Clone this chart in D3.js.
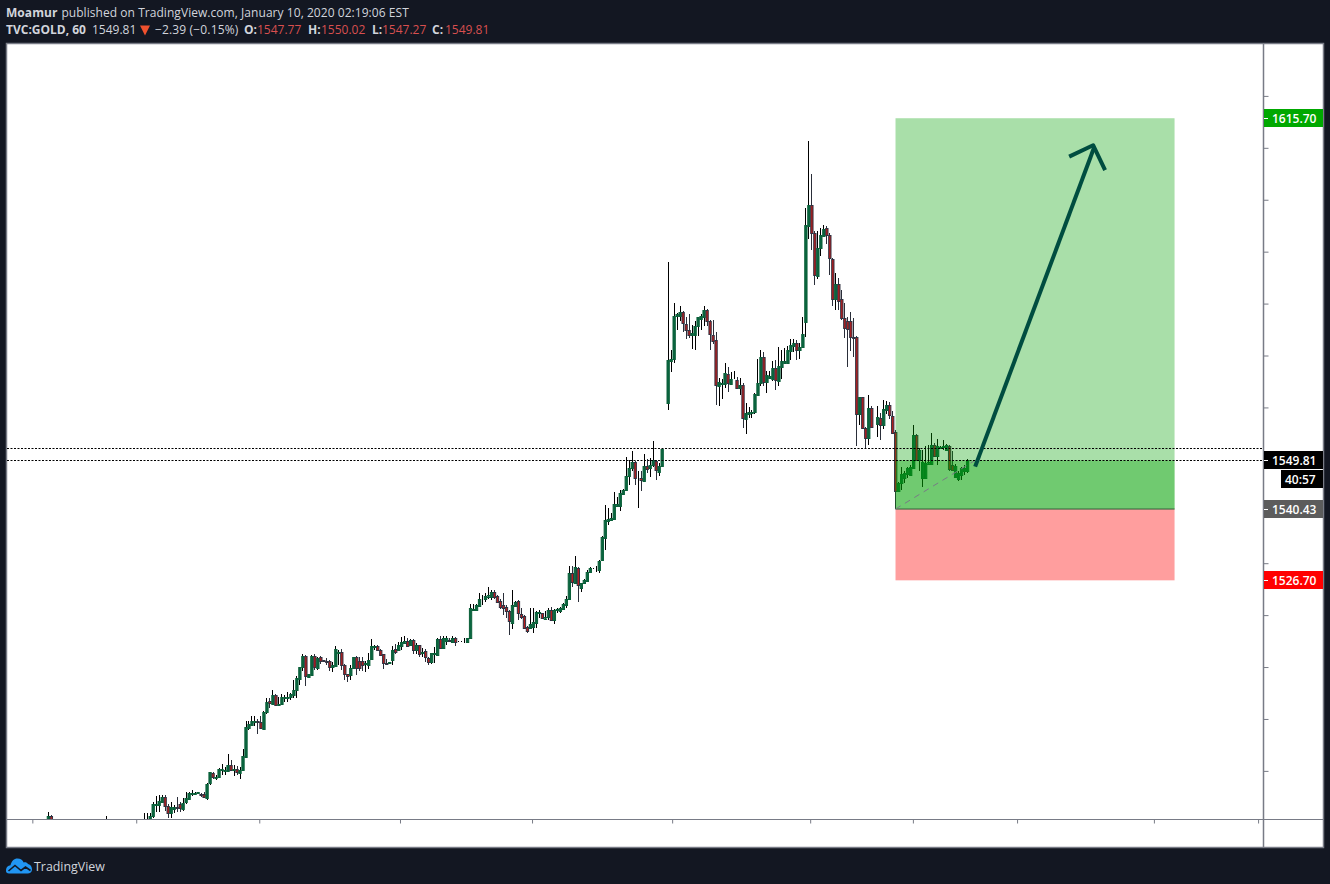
<!DOCTYPE html>
<html><head><meta charset="utf-8">
<script src="https://cdnjs.cloudflare.com/ajax/libs/d3/7.8.5/d3.min.js"></script>
<style>html,body{margin:0;padding:0;background:#131722}svg{display:block}text{font-family:"Open Sans",sans-serif}</style>
</head><body><div id="chart"></div>
<script>
const earlySlots=[0,1,19.5,32,33];
const firstMainSlot=34;
const earlyOpens=[1480.6,1481.4,1478.4,1478.6,1478.9];
const earlyCloses=[1481.4,1480.2,1478.8,1478.9,1479.5];
const earlyHighs=[1482.0,1481.6,1481.3,1481.9,1481.9];
const earlyLows=[1479.8,1479.6,1478,1478,1478.5];

const opens=[
1480.6,1481.2,1483.4,1483.5,1484.1,1484.9,1483.3,1481.9,1482.8,1483,1483.6,1482.8,1483.9,1484.6,1485.5,1485.7,1485.8,1485.5,1485.5,1484.8,1487.5,1489.5,1488.7,1488.9,1490.2,1490.1,1490,1491.1,1490.1,1490.3,1489.7,1490.1,1492.7,1498.2,1499,1499.5,1499.7,
1499.5,1498.1,1501.2,1503.4,1502.8,1504.6,1502.7,1502.8,1504,1504.2,1504.2,1504.6,1505.5,1507.7,1509.9,1512.1,1508.1,1508.5,1512.1,1509.7,1511.9,1511.3,1511.2,1511.1,1510,1510.2,1512.7,1512.9,1510.4,1508.7,1508.5,1509.7,1511.9,1511.2,1511.2,1510.5,1510.5,1511.4,1513.9,1514,1513.3,1512.5,1510.7,1510.8,1511.3,1513.4,1513.3,1514,1514.8,1515.1,1514.3,1515.2,1513.3,1514.2,1512.7,1513,1511.7,1510.9,1512.6,1512.3,1515.4,1513.6,1515.1,1515.3,1514.9,1515.5,1515,1515,1514.7,1514.7,1515.6,1521.1,1521,1521.8,
1523.5,1523.2,1523.5,1523.6,1524.5,1523.7,1522.8,1521.9,1521.5,1520.7,1518.6,1521.9,1522.8,1520.2,1519.9,1517.7,1517.6,1517.7,1518.5,1520.4,1520.4,1519.4,1519.6,1521,1519.1,1520.9,1520.7,1521.2,1522,1523,1528.1,1526.3,1529,1525.2,1526.2,1526.6,1528.3,1528.9,1528.9,1528.7,1530.5,1535,1538.1,1538.4,1538.6,1541.1,1541,1543.4,1544.1,1546.7,1548.3,1549.5,1546.4,1546.4,1545.9,1548.8,1548.4,1548.8,1549.6,1547.7,1548.8,1551.8,
1561,1569,1569.4,1577.5,1577.5,1578.3,1576.1,1575,1574,1574,1575.6,1577.2,1577.5,1578.8,1576.7,1574,1572.9,1564.2,1564.6,1564.4,1566.4,1564.6,1565.5,1565.2,1563.7,1564.3,1557.8,1558.8,1558.9,1559.2,1562.4,1564.7,1569.8,1564.9,1565.8,1565.5,1567.6,1565,1567.8,1568.7,1568.6,1571,1571.9,1572.4,1571.1,1571.6,1576.6,1594.9,1599,1593.5,1585.4,1590.6,1593.1,1594.5,1593.2,1588.6,1580.9,1583.8,1580.8,1577.2,1576.7,1576.7,1573.6,1573.6,1558.8,1562,1556,1554.1,1559.9,1556.2,1556.9,1558,1556.6,1559.6,1560.5,1558.4,1555.3,
1543.9,1545.3,1546.4,1547.2,1547.1,1548.4,1554.7,1549.9,1546.5,1546.5,1549.2,1549.1,1552.8,1550.5,1552.3,1552.4,1551.7,1552.5,1548.9,1546.7,1546.2,1547,1547.8,1547.8];
const closes=[
1481.3,1483.6,1483.6,1484.2,1485,1483.1,1481.9,1483.1,1483.1,1482.8,1482.8,1483.9,1484.7,1485.7,1485.7,1485.8,1485.9,1485.3,1485,1487.5,1489.7,1488.7,1488.8,1490.4,1490.4,1490.2,1491.1,1490.2,1490.3,1489.7,1490.2,1492.8,1498.5,1499,1499.7,1499.7,1499.6,
1498.4,1501.3,1503.2,1503,1504.6,1502.7,1502.8,1504.2,1504.2,1504.3,1504.8,1505.6,1507.8,1510,1512.1,1508.2,1508.6,1512.1,1509.9,1511.7,1511.2,1511.2,1511.1,1510,1510.4,1513.5,1512.9,1510.3,1508.7,1508.4,1509.8,1511.9,1509.8,1509.9,1510.5,1510.7,1511.4,1514,1514.1,1513.2,1512.4,1510.7,1510.6,1510.9,1513.3,1512.8,1514.3,1514.8,1515.1,1514.1,1515.3,1513.3,1514.3,1512.5,1512.9,1511.9,1510.9,1512.7,1512.8,1515.4,1513.6,1515.5,1515.6,1515.2,1515.6,1514.7,1515,1515,1514.7,1515.5,1521.3,1521.2,1522,1523.2,
1523.5,1523.7,1523.9,1524.5,1523.6,1522.6,1521.7,1521.3,1520.7,1518.8,1522,1522.6,1520.4,1519.7,1517.5,1517,1518.3,1518.6,1520.6,1520.6,1519.5,1519.7,1521,1519.1,1521,1521.1,1521.3,1522.2,1523.1,1528.1,1526.4,1529.3,1525.7,1526.2,1526.8,1528.4,1529,1528.9,1528.9,1530.5,1535,1538.4,1538.5,1538.8,1541.4,1541.4,1543.5,1544.1,1546.8,1548.3,1549.4,1546.4,1546.4,1546,1548.8,1548.3,1548.9,1549.8,1547.8,1548.8,1552,1551.8,
1569.2,1569.3,1577.7,1577.9,1578.3,1576.1,1574.9,1574,1574.3,1575.7,1577.4,1577.7,1578.8,1576.6,1574.2,1572.9,1564.2,1564.9,1564.7,1566.6,1564.7,1565.5,1565.5,1563.7,1564.3,1557.9,1558.9,1559.1,1559.1,1562.6,1564.7,1569.8,1564.9,1566.2,1566.1,1567.6,1565.2,1567.9,1568.9,1569,1571.1,1572.1,1572.4,1571,1571.7,1574.2,1595.2,1599,1593.6,1585.4,1590.7,1593.2,1594.4,1593.1,1588.7,1580.9,1583.7,1580.6,1577.2,1575.3,1575.2,1573.6,1573.5,1558.8,1562,1556,1554.1,1559.9,1556.2,1556.2,1558.2,1556.6,1559.7,1560.5,1558.6,1555.2,1544,
1545.4,1547.1,1547.3,1548.3,1548.6,1554.7,1549.9,1551.8,1549.5,1549.3,1549.5,1552.8,1550.7,1552.5,1552.4,1552.5,1552.7,1548,1547.9,1548.8,1547.3,1548.4,1548.4,1549.9];
const highs=[
1481.8,1484.1,1485.2,1485.4,1485.4,1485.4,1483.7,1484.1,1483.4,1485,1484.1,1484.7,1485.9,1486,1486.3,1485.9,1485.9,1485.8,1486,1487.6,1489.8,1489.8,1489.2,1490.5,1491.4,1490.7,1493.2,1492.1,1491.1,1491,1490.7,1494.3,1499.7,1499.7,1500.6,1500.6,1500,
1500.5,1501.5,1504,1504,1505.6,1504.8,1504.2,1504.8,1504.6,1505.2,1505,1507.5,1508.2,1510,1512.6,1512.3,1508.7,1512.3,1512.5,1512,1512.2,1511.3,1511.7,1511.4,1511,1514,1513.3,1513.4,1510.5,1508.7,1510.3,1512,1512.2,1511.9,1511.9,1511.1,1512.8,1515.4,1514.3,1514.3,1513.4,1512.6,1511.5,1511,1514,1514.4,1514.8,1515.7,1515.9,1515.5,1515.4,1515.4,1514.7,1514.3,1513.6,1513.4,1511.9,1512.8,1513.8,1515.5,1515.9,1516,1515.9,1515.5,1515.9,1515.7,1515,1515.1,1515.5,1515.5,1522.2,1522.2,1522.1,1524.2,
1523.9,1524.2,1525.5,1524.8,1524.9,1523.9,1523.1,1524.2,1522,1521,1524.9,1522.8,1523,1521.3,1520,1518,1521.3,1521.3,1520.7,1521,1520.5,1520.7,1521.3,1521.5,1521.1,1521.3,1521.5,1522.3,1523.7,1529.4,1529.5,1531.4,1529.2,1526.2,1526.9,1528.6,1529.2,1529,1529.4,1530.7,1535.2,1541.2,1540.6,1539.6,1543.8,1542.8,1544.1,1544.3,1550.4,1549.8,1551.6,1549.6,1547.7,1547.7,1551,1550,1550.2,1553.6,1549.8,1549.3,1552,1551.8,
1588.1,1571,1580.2,1578.2,1579.6,1578.5,1577.5,1577.9,1575.9,1576.6,1577.5,1577.9,1579.5,1579,1576.8,1576.9,1574.5,1565.7,1565.4,1568.6,1567.8,1566.8,1567,1565.9,1565.7,1564.7,1560.9,1560.1,1559.6,1562.8,1569.3,1571,1570.6,1567.1,1567,1568.9,1569.2,1571.6,1571.1,1571.4,1571.9,1573.2,1573.2,1573,1572.4,1577.5,1598.5,1611.4,1605,1593.9,1593.9,1594.6,1595.2,1595,1593.5,1588.7,1585.8,1584.9,1582.7,1580.2,1577.5,1578.4,1577.2,1573.7,1562.1,1562.1,1556.2,1562.3,1560.2,1556.2,1560.3,1558.9,1561.5,1561.2,1561,1559.3,1555.6,
1545.6,1548.6,1547.7,1548.6,1549,1556.6,1554.9,1552.2,1551.8,1552.5,1552.8,1555,1553.1,1553.9,1552.5,1553.8,1552.9,1552.8,1551.6,1549.1,1547.7,1548.6,1549,1550];
const lows=[
1480,1481,1482.1,1482.1,1483.8,1482.3,1481,1480.9,1481.8,1482,1482.1,1482.3,1483.7,1484.4,1485.2,1485.6,1485.8,1485,1484.7,1484.3,1487.3,1488.4,1488.2,1488.7,1489.2,1489.2,1489.9,1490,1489,1489.2,1488.5,1489.9,1492.4,1497.9,1498.8,1498.6,1497.2,
1498,1497.8,1501,1502.2,1502.7,1502.6,1502.6,1502.6,1503.3,1503.3,1503.7,1504.1,1504.1,1506.6,1509.3,1506.4,1508,1508.4,1509.4,1509.5,1510.6,1511,1510.3,1509.3,1509.1,1510,1510.4,1509.4,1507.5,1507.2,1507.5,1509.6,1508.5,1509.2,1509.2,1509.1,1509.6,1511.3,1513.3,1513.1,1512.3,1509.6,1510.4,1510.7,1510.4,1512.5,1513.2,1513.3,1514.6,1514,1514.2,1512.6,1512.6,1511.9,1512,1511,1510.4,1510.6,1510.8,1512.3,1513.5,1513.5,1514.3,1514.9,1514.6,1514.1,1514.9,1514.9,1514.6,1514.6,1515.5,1520.9,1520.9,1521.7,
1522,1522.5,1523.1,1523,1523.1,1522.3,1521.1,1520.1,1519.4,1516.2,1517.4,1521.8,1519.1,1519.2,1517.5,1516.6,1517.5,1516.6,1517.5,1519.4,1519.3,1519.3,1519.1,1519.1,1518.3,1520.4,1520.5,1521.1,1521.3,1523,1525.5,1526.2,1522.6,1524.5,1526,1526.5,1528.3,1528.8,1528.4,1528.2,1530.5,1532.6,1537.4,1538.4,1538.5,1541,1540.1,1543.2,1544,1545.1,1547.7,1545.1,1540.7,1544,1545.8,1547.3,1546.6,1548.6,1546,1546.7,1548.8,1551.8,
1559.6,1566.8,1568.6,1574.9,1576.6,1574.5,1573.1,1573.4,1571.2,1571,1573.8,1575,1575.6,1575.6,1571.1,1572.3,1560.5,1560.3,1561.6,1563.7,1562.9,1564.4,1565.4,1563.5,1562.3,1556,1554.8,1558,1558,1558.8,1562.8,1564.2,1564.2,1562.8,1565.5,1565,1563.4,1564.2,1565.4,1568.4,1568.4,1569.2,1570.6,1569.2,1569.4,1571.4,1573.5,1592.4,1590.4,1583.5,1584.8,1589.1,1592.8,1591.4,1585.6,1579.5,1578.8,1578.8,1576.9,1573.4,1567.8,1570.8,1569.8,1552.5,1556.7,1555.8,1552,1552.8,1556.2,1556.2,1554.4,1553.7,1555.8,1558.8,1557.8,1555.1,1540.5,
1543.9,1544.1,1545.4,1546.4,1546.9,1548.2,1549.7,1547.8,1544.6,1546.4,1548.9,1548.9,1550.5,1548.9,1552.3,1551.8,1551.6,1547.7,1547.7,1546.4,1545.9,1546,1547,1547.3];

const priceTicks=d3.range(1490,1621,10);
const timeTicks=[-5.2,29.5,70.6,117.6,161.7,208.5,254.6,288.9,323.7,369.4,404.2];
const targetPrice=1615.70,entryPrice=1540.43,stopPrice=1526.70,lastPrice=1549.81,prevClose=1552.2;
const positionSlots=[283.1,376.3];
const fillSlot=309.7;
const arrowShaft=[[309.7,1548.6],[349.4,1610.0]];
const arrowHead=[[341.1,1608.3],[349.1,1610.5],[353.1,1605.7]];
const headerLine1="published on TradingView.com, January 10, 2020 02:19:06 EST";
const axisBadges=[{p:targetPrice,t:"1615.70",c:"#00a800"},{p:lastPrice,t:"1549.81",c:"#000000"},{p:entryPrice,t:"1540.43",c:"#5c5c5c"},{p:stopPrice,t:"1526.70",c:"#ff0000"}];

const W=1330,H=884,L=7,R=1263,T=44,B=819.5;
const x=d3.scaleLinear().domain([-13.66,405.84]).range([L,R]);
const y=d3.scaleLinear().domain([1530,1620]).range([563.2,95.9]);
const svg=d3.select("#chart").append("svg").attr("width",W).attr("height",H);
svg.append("rect").attr("width",W).attr("height",H).attr("fill","#131722");
svg.append("rect").attr("x",6.5).attr("y",43.5).attr("width",1317).attr("height",804).attr("fill","#fff").attr("stroke","#787b86").attr("stroke-width",1.5);
svg.append("defs").append("clipPath").attr("id","plot").append("rect").attr("x",L).attr("y",T).attr("width",R-L).attr("height",B-T);

const slots=earlySlots.concat(d3.range(firstMainSlot,firstMainSlot+opens.length));
const bars=slots.map((s,i)=>{const k=i-earlySlots.length;return k<0
 ?{s,o:earlyOpens[i],h:earlyHighs[i],l:earlyLows[i],c:earlyCloses[i]}
 :{s,o:opens[k],h:highs[k],l:lows[k],c:closes[k]};});

const plot=svg.append("g").attr("clip-path","url(#plot)");
const gb=plot.append("g");
gb.selectAll("line").data(bars).join("line")
 .attr("shape-rendering","crispEdges")
 .attr("x1",d=>Math.round(x(d.s))+.5).attr("x2",d=>Math.round(x(d.s))+.5)
 .attr("y1",d=>y(d.h)).attr("y2",d=>y(d.l))
 .attr("stroke",d=>d.c>=d.o?"#000":"#2a2e39");
gb.selectAll("rect").data(bars).join("rect")
 .attr("x",d=>x(d.s)+.5-1.15).attr("width",2.3)
 .attr("y",d=>Math.round(y(Math.max(d.o,d.c)))+.5)
 .attr("height",d=>Math.max(0,Math.round(Math.abs(y(d.o)-y(d.c)))))
 .attr("fill",d=>d.c>=d.o?"#0a6640":"#b71c1c")
 .attr("stroke",d=>d.c>=d.o?"#0a5f38":"#2f3241");

// position tool
const gp=plot.append("g");
const xa=x(positionSlots[0]),xb=x(positionSlots[1]);
gp.append("rect").attr("x",xa).attr("width",xb-xa).attr("y",y(targetPrice)).attr("height",y(entryPrice)-y(targetPrice)).attr("fill","rgb(0,160,0)").attr("fill-opacity",.337);
gp.append("rect").attr("x",xa).attr("width",xb-xa).attr("y",y(lastPrice)).attr("height",y(entryPrice)-y(lastPrice)).attr("fill","rgb(0,160,0)").attr("fill-opacity",.337);
gp.append("rect").attr("x",xa).attr("width",xb-xa).attr("y",y(entryPrice)).attr("height",y(stopPrice)-y(entryPrice)).attr("fill","rgb(255,0,0)").attr("fill-opacity",.38);
gp.append("line").attr("x1",xa).attr("x2",xb).attr("y1",y(entryPrice)).attr("y2",y(entryPrice)).attr("stroke","#2f5f3a").attr("stroke-width",1);
gp.append("line").attr("x1",xa).attr("x2",x(fillSlot)).attr("y1",y(entryPrice)).attr("y2",y(lastPrice)).attr("stroke","#787b86").attr("stroke-width",1).attr("stroke-dasharray","6 5");
[prevClose,lastPrice].forEach(p=>{plot.append("line").attr("x1",L).attr("x2",R).attr("y1",Math.round(y(p))+.5).attr("y2",Math.round(y(p))+.5).attr("stroke","#000").attr("stroke-width",1).attr("stroke-dasharray","2 1.5");});
const ln=d3.line().x(d=>x(d[0])).y(d=>y(d[1]));
[arrowShaft,arrowHead].forEach(a=>{plot.append("path").attr("d",ln(a)).attr("fill","none").attr("stroke","#004d40").attr("stroke-width",4).attr("stroke-linejoin","round");});

// axes
const ay=d3.axisRight(y).tickValues(priceTicks).tickFormat("").tickSize(5).tickSizeOuter(0);
const gy=svg.append("g").attr("transform",`translate(${R+.5},0)`).call(ay);
gy.select(".domain").remove();
svg.append("line").attr("x1",R+.5).attr("x2",R+.5).attr("y1",T).attr("y2",847).attr("stroke","#787b86").attr("stroke-width",1.5);
gy.selectAll("line").attr("stroke","#787b86");
const ax=d3.axisBottom(x).tickValues(timeTicks).tickFormat("").tickSize(4).tickSizeOuter(0);
const gx=svg.append("g").attr("transform",`translate(0,${B})`).call(ax);
gx.select(".domain").remove();
svg.append("line").attr("x1",L).attr("x2",1323).attr("y1",B).attr("y2",B).attr("stroke","#787b86").attr("stroke-width",1.2);
gx.selectAll("line").attr("stroke","#787b86");

// price badges
const gl=svg.append("g");
axisBadges.forEach(b=>{const yy=y(b.p);
 gl.append("rect").attr("x",R+1).attr("y",Math.round(yy)-9).attr("width",59).attr("height",18).attr("fill",b.c);
 gl.append("line").attr("x1",R+1).attr("x2",R+5).attr("y1",Math.round(yy)+.5).attr("y2",Math.round(yy)+.5).attr("stroke","#fff");
 gl.append("text").attr("x",1272).attr("y",Math.round(yy)+4.5).attr("fill","#fff").attr("font-size",12).attr("font-weight",600).text(b.t);
});
gl.append("rect").attr("x",1281).attr("y",470).attr("width",42).attr("height",18).attr("fill","#000");
gl.append("text").attr("x",1285).attr("y",483.5).attr("fill","#fff").attr("font-size",12).attr("font-weight",600).text("40:57");

// header
const hc="#d1d4dc",red="#d84f4f";
const t1=svg.append("text").attr("x",6).attr("y",16.5).attr("font-size",12).attr("fill",hc).attr("letter-spacing",.05);
t1.append("tspan").attr("font-weight",700).text("Moamur");
t1.append("tspan").attr("dx",4).text(headerLine1);
const seg=[["TVC:GOLD, 60",6,700,hc],["1549.81",92,400,hc],["−2.39 (−0.15%)",155,400,hc],["O:",244,700,hc],["1547.77",257,400,red],["H:",308,700,hc],["1550.02",321,400,red],["L:",372,700,hc],["1547.27",382,400,red],["C:",432,700,hc],["1549.81",445,400,red]];
seg.forEach(s=>svg.append("text").attr("x",s[1]).attr("y",34).attr("font-size",12).attr("font-weight",s[2]).attr("fill",s[3]).attr("letter-spacing",s[0].startsWith("−")?.15:0).text(s[0]));
svg.append("path").attr("d","M140 25.5 H150 L145 35.5 Z").attr("fill","#f0512e");

// logo
const lg=svg.append("g").attr("transform","translate(6,858)");
lg.append("path").attr("d","M0 13 C0 9 2 7.5 4.5 7.2 C5.5 3 8 0.5 11.5 0.5 C14.5 0.5 16.5 2 17.7 4.5 C19 3.8 21 4.2 22 6 C24.8 6.5 26 9 26 11.5 C26 14 24 15.5 21.5 15.5 L3 15.5 C1 15.5 0 14.5 0 13Z").attr("fill","#2196f3");
lg.append("path").attr("d","M2.5 13 L9 7.5 L15 12.5 L19.5 9 L24.5 12.5").attr("fill","none").attr("stroke","#131722").attr("stroke-width",1.6);
svg.append("text").attr("x",34).attr("y",870.5).attr("font-size",12.4).attr("fill","#d1d4dc").text("TradingView");
</script></body></html>
